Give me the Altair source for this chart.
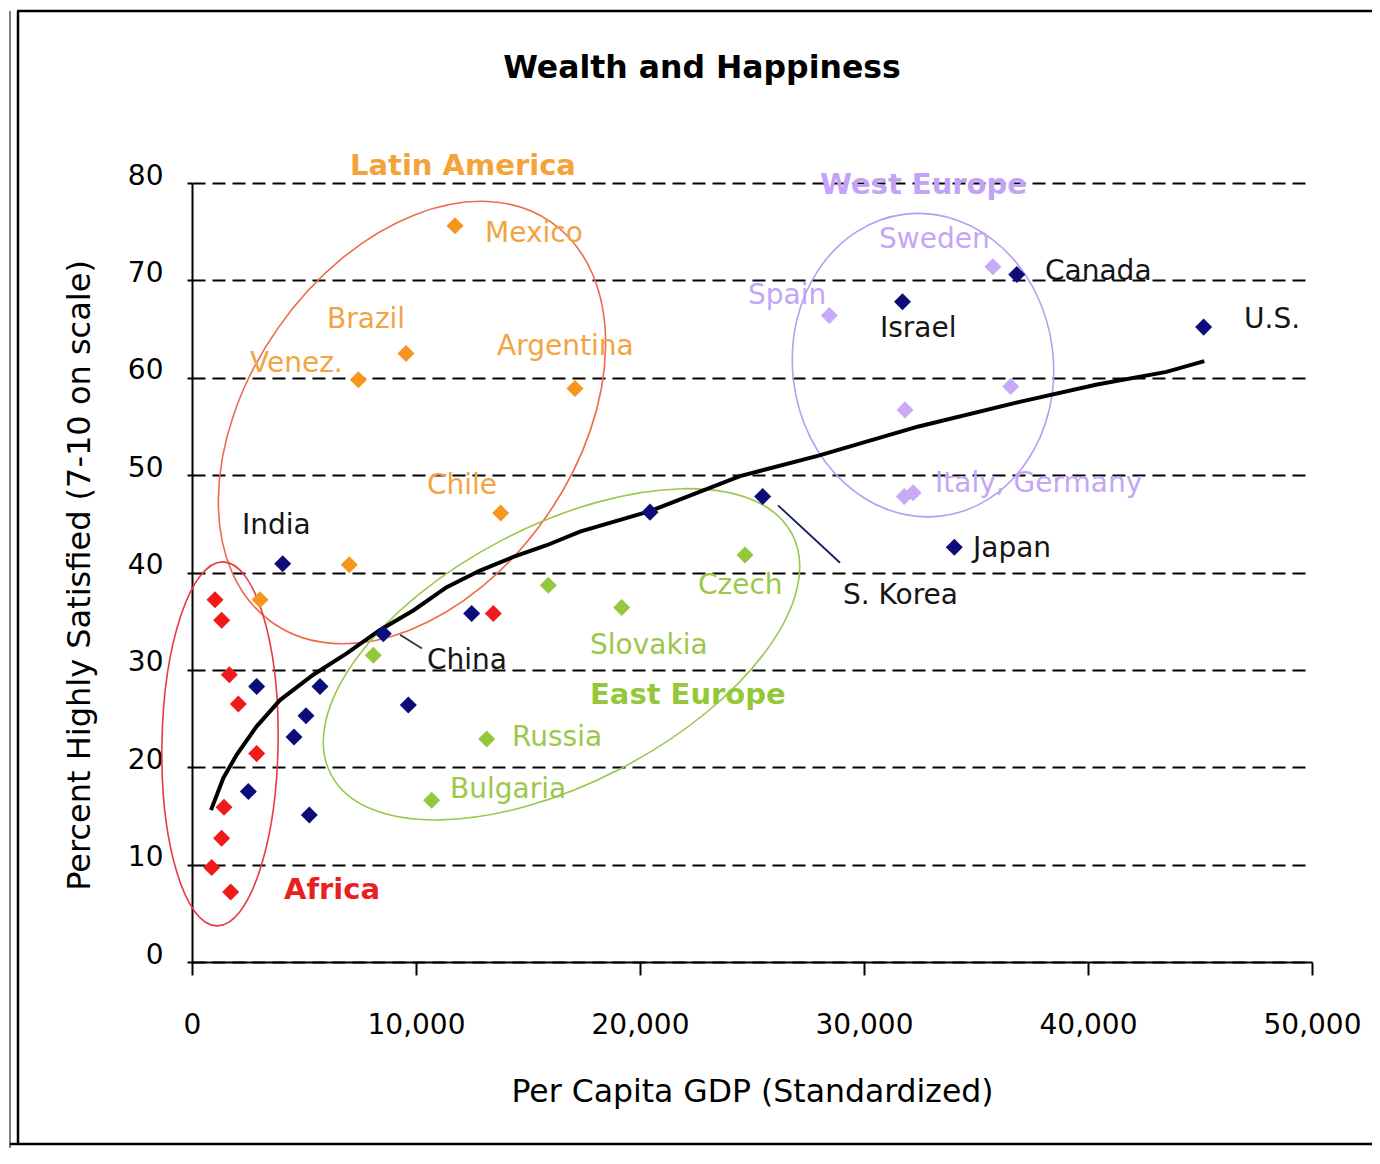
import altair as alt
import pandas as pd

# ---------------- data ----------------
AFRICA_X = [1027, 1324, 1667, 2068, 2887, 1429, 1324, 878, 1726, 13452]
AFRICA_Y = [37.2, 35.1, 29.5, 26.5, 21.4, 15.9, 12.7, 9.7, 7.2, 35.8]

LATAM_X = [11741, 9554, 7426, 17098, 13780, 7022, 3036]
LATAM_Y = [75.6, 62.5, 59.8, 58.9, 46.1, 40.8, 37.2]

EAST_X = [8095, 15908, 24688, 19182, 13155, 10699]
EAST_Y = [31.5, 38.7, 41.8, 36.4, 22.9, 16.6]

WEST_X = [35754, 28451, 36549, 31830, 31797, 32196]
WEST_Y = [71.4, 66.4, 59.1, 56.7, 47.8, 48.2]

OTHER_X = [4049, 8542, 2887, 5714, 5089, 4554, 9658, 2515, 5238, 12485,
           20446, 25476, 31719, 36821, 45161, 34031]
OTHER_Y = [40.9, 33.7, 28.3, 28.3, 25.3, 23.1, 26.4, 17.5, 15.1, 35.8,
           46.2, 47.8, 67.8, 70.6, 65.2, 42.6]

TREND_X = [848, 1400, 2000, 2887, 3929, 5416, 6906, 8393, 9879, 11371, 12857,
           14346, 15836, 17321, 20446, 24464, 27973, 32437, 36902, 40402, 43500, 45192]
TREND_Y = [15.6, 18.9, 21.3, 24.2, 26.9, 29.5, 31.7, 34.1, 36.1, 38.5, 40.2,
           41.6, 42.8, 44.2, 46.3, 49.9, 52.0, 55.0, 57.5, 59.3, 60.6, 61.7]

LABEL_TEXT = ["Mexico", "Brazil", "Venez.", "Argentina", "Chile",
              "India", "China", "S. Korea", "Japan", "Israel", "Canada", "U.S.",
              "Czech", "Slovakia", "Russia", "Bulgaria",
              "Sweden", "Spain", "Italy, Germany"]
LABEL_X = [13080, 6027, 2589, 13616, 10491,
           2232, 10491, 29063, 34866, 30714, 38080, 46964,
           22589, 17768, 14286, 11518,
           30670, 24821, 33170]
LABEL_Y = [74.8, 65.9, 61.4, 63.2, 48.9,
           44.8, 30.9, 37.6, 42.4, 65.0, 70.9, 65.9,
           38.6, 32.5, 23.0, 17.7,
           74.1, 68.4, 49.1]
LABEL_GROUP = ["latam"] * 5 + ["other"] * 7 + ["east"] * 4 + ["west"] * 3

REGION_TEXT = ["Latin America", "Africa", "East Europe", "West Europe"]
REGION_X = [7054, 4107, 17768, 28036]
REGION_Y = [81.7, 7.4, 27.4, 79.8]
REGION_GROUP = ["latam", "africa", "east", "west"]

ELLIPSE_GROUP = ["latam", "africa", "east", "west"]
ELLIPSE_CX = [9821, 1250, 16496, 32634]
ELLIPSE_CY = [55.4, 22.4, 31.6, 61.3]

LEADER_X = [9286, 26161]
LEADER_Y = [33.6, 46.9]
LEADER_X2 = [10268, 28929]
LEADER_Y2 = [32.2, 41.0]
LEADER_GROUP = ["china", "korea"]

X_TICKS = [0, 10000, 20000, 30000, 40000, 50000]
Y_TICKS = [0, 10, 20, 30, 40, 50, 60, 70, 80]

# ---------------- styles ----------------
FONT = "DejaVu Sans"
DIAMOND_COLOR = {"africa": "#f01a1a", "latam": "#f7961e", "east": "#94c83c",
                 "west": "#c8aaf6", "other": "#0d0d7a"}
LABEL_COLOR = {"latam": "#f2a444", "other": "#151515", "east": "#9cc84a",
               "west": "#c4a6f4", "africa": "#e82424"}
REGION_COLOR = {"latam": "#f4a23a", "africa": "#e8201e", "east": "#94c83a",
                "west": "#c4a2f6"}
LEADER_COLOR = {"china": "#333333", "korea": "#1a1a60"}
# pixel semi-major axis, minor/major ratio, clockwise tilt of the major axis from vertical
ELLIPSE_STYLE = {
    "latam": dict(color="#ee6a4c", semi=244, ratio=0.672, angle=34.75),
    "africa": dict(color="#e83a44", semi=182, ratio=0.319, angle=1),
    "east": dict(color="#98c848", semi=260, ratio=0.495, angle=62.5),
    "west": dict(color="#b89cf0", semi=152, ratio=0.858, angle=353.4),
}

x_scale = alt.Scale(domain=[0, 50000], nice=False, zero=False)
y_scale = alt.Scale(domain=[0, 80], nice=False, zero=False)

x_axis = alt.Axis(
    values=X_TICKS, format=",d", title="Per Capita GDP (Standardized)",
    grid=False, domainColor="black", domainWidth=2, tickColor="black", tickWidth=2,
    tickSize=13, labelFont=FONT, labelFontSize=28, labelColor="black", labelPadding=36,
    labelFlush=False, labelOverlap=False,
    titleFont=FONT, titleFontSize=31.5, titleFontWeight="normal", titleColor="black",
    titleBaseline="alphabetic", titleY=139,
)
y_axis = alt.Axis(
    values=Y_TICKS, title="Percent Highly Satisfied (7-10 on scale)",
    grid=True, gridColor="black", gridDash=[13, 7], gridWidth=2, gridOpacity=1,
    domainColor="black", domainWidth=2, tickColor="black", tickWidth=2, tickSize=5,
    labelFont=FONT, labelFontSize=28, labelColor="black", labelPadding=24, labelOffset=-7,
    labelFlush=False, labelOverlap=False,
    titleFont=FONT, titleFontSize=32, titleFontWeight="normal", titleColor="black",
    titleAngle=270, titleBaseline="alphabetic", titleX=-103, titleY=392, titleAlign="center",
)


def ellipse_path(r):
    k = 0.5523
    return (f"M 0 -1 C {k*r:.4f} -1 {r:.4f} {-k:.4f} {r:.4f} 0 "
            f"C {r:.4f} {k:.4f} {k*r:.4f} 1 0 1 "
            f"C {-k*r:.4f} 1 {-r:.4f} {k:.4f} {-r:.4f} 0 "
            f"C {-r:.4f} {-k:.4f} {-k*r:.4f} -1 0 -1 Z")


def X(field="x"):
    return alt.X(f"{field}:Q", scale=x_scale, axis=x_axis)


def Y(field="y"):
    return alt.Y(f"{field}:Q", scale=y_scale, axis=y_axis)


layers = []

# ellipses (annotation outlines, centred through the data scales)
ell_df = pd.DataFrame({"group": ELLIPSE_GROUP, "x": ELLIPSE_CX, "y": ELLIPSE_CY})
for g in ELLIPSE_GROUP:
    st = ELLIPSE_STYLE[g]
    layers.append(
        alt.Chart(ell_df[ell_df.group == g]).mark_point(
            shape=ellipse_path(st["ratio"]), size=(2 * st["semi"]) ** 2,
            angle=st["angle"], filled=False, stroke=st["color"], strokeWidth=1.6,
            opacity=1,
        ).encode(x=X(), y=Y())
    )

# trend line
trend_df = pd.DataFrame({"x": TREND_X, "y": TREND_Y})
layers.append(
    alt.Chart(trend_df).mark_line(color="black", strokeWidth=4).encode(x=X(), y=Y())
)

# leader lines
lead_df = pd.DataFrame({"group": LEADER_GROUP, "x": LEADER_X, "y": LEADER_Y,
                        "x2": LEADER_X2, "y2": LEADER_Y2})
for g in LEADER_GROUP:
    layers.append(
        alt.Chart(lead_df[lead_df.group == g]).mark_rule(
            color=LEADER_COLOR[g], strokeWidth=1.8
        ).encode(x=X(), y=Y(), x2="x2:Q", y2="y2:Q")
    )

# diamonds
groups = {
    "africa": (AFRICA_X, AFRICA_Y),
    "latam": (LATAM_X, LATAM_Y),
    "east": (EAST_X, EAST_Y),
    "west": (WEST_X, WEST_Y),
    "other": (OTHER_X, OTHER_Y),
}
for g, (gx, gy) in groups.items():
    df = pd.DataFrame({"x": gx, "y": gy})
    layers.append(
        alt.Chart(df).mark_point(
            shape="diamond", filled=True, size=290, color=DIAMOND_COLOR[g], opacity=1
        ).encode(x=X(), y=Y())
    )

# point labels
lab_df = pd.DataFrame({"text": LABEL_TEXT, "x": LABEL_X, "y": LABEL_Y, "group": LABEL_GROUP})
for g in ["latam", "other", "east", "west"]:
    layers.append(
        alt.Chart(lab_df[lab_df.group == g]).mark_text(
            align="left", baseline="middle", font=FONT, fontSize=28, color=LABEL_COLOR[g]
        ).encode(x=X(), y=Y(), text="text:N")
    )

# region names
reg_df = pd.DataFrame({"text": REGION_TEXT, "x": REGION_X, "y": REGION_Y, "group": REGION_GROUP})
for g in REGION_GROUP:
    layers.append(
        alt.Chart(reg_df[reg_df.group == g]).mark_text(
            align="left", baseline="middle", font=FONT, fontSize=29, fontWeight="bold",
            color=REGION_COLOR[g]
        ).encode(x=X(), y=Y(), text="text:N")
    )

# outer double frame (decoration)
one = pd.DataFrame({"k": [0]})
layers += [
    alt.Chart(one).mark_rule(color="black", strokeWidth=2.5).encode(
        x=alt.value(-175), x2=alt.value(1185), y=alt.value(-172)),
    alt.Chart(one).mark_rule(color="black", strokeWidth=2.5).encode(
        x=alt.value(-174), y=alt.value(-172), y2=alt.value(962)),
    alt.Chart(one).mark_rule(color="#555555", strokeWidth=1.5).encode(
        x=alt.value(-182), y=alt.value(-172), y2=alt.value(965)),
    alt.Chart(one).mark_rule(color="black", strokeWidth=2.5).encode(
        x=alt.value(-182), x2=alt.value(1185), y=alt.value(961)),
]

chart = alt.layer(*layers).properties(
    width=1120,
    height=779,
    title=alt.TitleParams(
        "Wealth and Happiness", font=FONT, fontSize=31.5, fontWeight="bold",
        color="black", anchor="middle", frame="group", baseline="alphabetic",
        dx=-50, dy=100, offset=0,
    ),
    padding={"left": 184, "top": 175, "right": 60, "bottom": 186},
    autosize=alt.AutoSizeParams(type="none"),
).configure(font=FONT, background="white").configure_view(stroke=None)

chart.save("out.html", embed_options={"renderer": "svg", "actions": False})
